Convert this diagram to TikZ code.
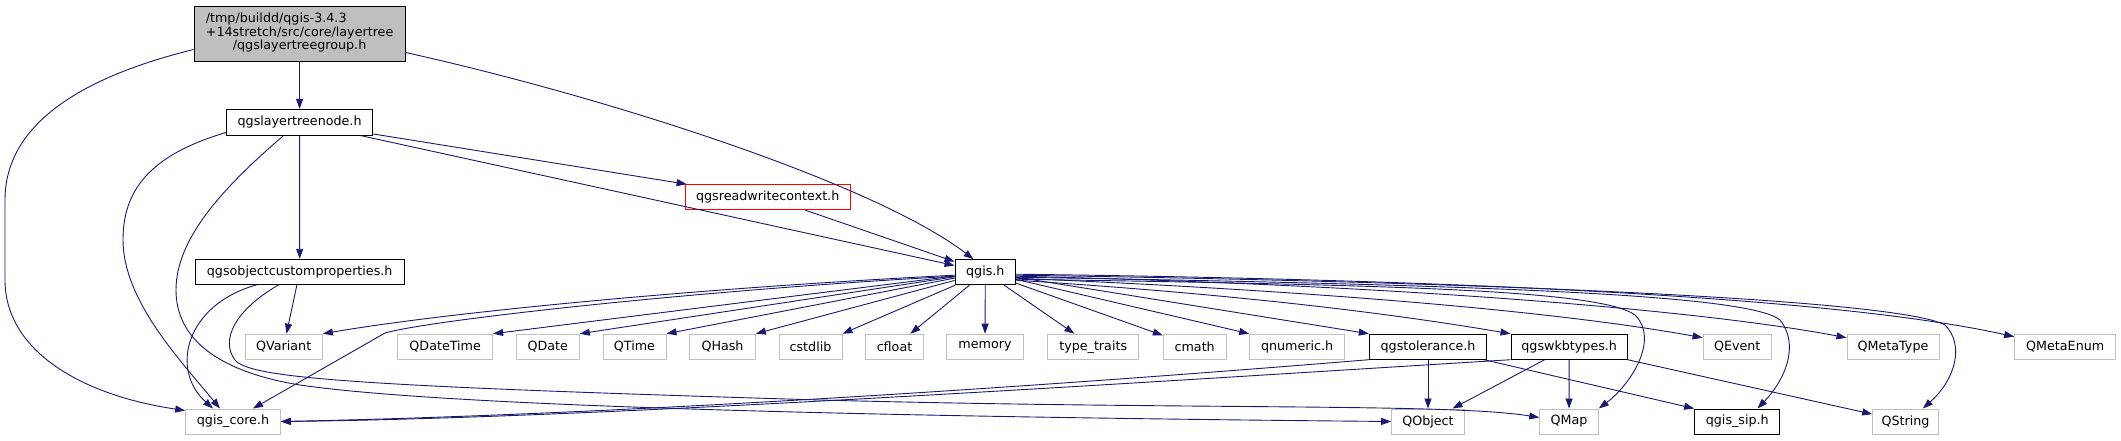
\documentclass[tikz,border=0pt]{standalone}
\usepackage{fontspec}
\setmainfont{DejaVu Sans}
\usetikzlibrary{arrows.meta,calc}
\definecolor{edgeblue}{HTML}{191970}
\definecolor{extgray}{HTML}{BFBFBF}
\begin{document}
\begin{tikzpicture}[x=1pt,y=-1pt,
  nbox/.style={draw, line width=1pt, fill=white, inner sep=0pt, minimum height=25pt, font=\fontsize{12.7}{13.4}\selectfont},
  doc/.style={nbox, draw=black},
  ext/.style={nbox, draw=extgray},
  trunc/.style={nbox, draw=red},
  edge/.style={draw=edgeblue, line width=0.9pt, -{Triangle[length=10pt,width=7pt]}}
]
\fill[white] (0,0) rectangle (2121,440);
\useasboundingbox (0,0) rectangle (2121,440);

% nodes
\node[doc, fill=extgray, minimum width=211pt, minimum height=55pt] (main) at (299.6,33.5)
  {\begin{tabular}{@{}l@{}}/tmp/buildd/qgis-3.4.3\\+14stretch/src/core/layertree\\\multicolumn{1}{@{}c@{}}{/qgslayertreegroup.h}\end{tabular}};
\node[doc, minimum width=146.5pt, minimum height=25.7pt] (ltn) at (299.6,122.2) {qgslayertreenode.h};
\node[doc, minimum width=209.3pt] (ocp) at (299.7,271.8) {qgsobjectcustomproperties.h};
\node[trunc, minimum width=164.6pt] (rwc) at (767.7,197.2) {qgsreadwritecontext.h};
\node[doc, minimum width=60.5pt] (qgis) at (985.3,272.2) {qgis.h};

\node[ext, minimum width=77.3pt] (QVariant) at (283.7,346.7) {QVariant};
\node[ext, minimum width=94.8pt] (QDateTime) at (445.2,346.7) {QDateTime};
\node[ext, minimum width=63pt] (QDate) at (547.8,346.7) {QDate};
\node[ext, minimum width=63pt] (QTime) at (634.5,346.7) {QTime};
\node[ext, minimum width=65.7pt] (QHash) at (722.5,346.7) {QHash};
\node[ext, minimum width=63pt] (cstdlib) at (810.5,346.7) {cstdlib};
\node[ext, minimum width=57.7pt] (cfloat) at (894.5,346.7) {cfloat};
\node[ext, minimum width=76.6pt] (memory) at (985,346.7) {memory};
\node[ext, minimum width=91pt] (typetraits) at (1093.2,346.7) {type\_traits};
\node[ext, minimum width=62.7pt] (cmath) at (1194.7,346.7) {cmath};
\node[ext, minimum width=94.8pt] (qnumeric) at (1297.1,346.7) {qnumeric.h};
\node[doc, minimum width=117.4pt] (qgstolerance) at (1428,346.7) {qgstolerance.h};
\node[doc, minimum width=116.3pt] (qgswkbtypes) at (1569.2,346.7) {qgswkbtypes.h};
\node[ext, minimum width=68.3pt] (QEvent) at (1737.2,346.7) {QEvent};
\node[ext, minimum width=92pt] (QMetaType) at (1893,346.7) {QMetaType};
\node[ext, minimum width=101pt] (QMetaEnum) at (2065.2,346.7) {QMetaEnum};

\node[ext, minimum width=94.6pt] (qgiscore) at (233,421.5) {qgis\_core.h};
\node[ext, minimum width=72.6pt] (QObject) at (1428,421.5) {QObject};
\node[ext, minimum width=58.6pt] (QMap) at (1569,421.5) {QMap};
\node[doc, minimum width=85.3pt] (qgissip) at (1737.3,421.5) {qgis\_sip.h};
\node[ext, minimum width=65.6pt] (QString) at (1905.5,421.5) {QString};

% edges from main
\draw[edge] (main) -- (ltn);
\draw[edge] ($(main.south west)+(0,-12)$) .. controls (90,75) and (5,120) .. (5,200) -- (5,280)
  .. controls (5,350) and (80,395) .. ($(qgiscore.north west)+(0,2)$);
\draw[edge] ($(main.south east)+(0,-9)$) .. controls (606,97) and (874,183) .. ($(qgis.north west)+(19,0)$);

% edges from qgslayertreenode.h
\draw[edge] (ltn) -- (rwc);
\draw[edge] (ltn) -- (qgis);
\draw[edge] (ltn) -- (ocp);
\draw[edge] ($(ltn.south west)+(0,-3)$) .. controls (150,155) and (123,190) .. (123,240)
  .. controls (123,300) and (180,360) .. ($(qgiscore.north)+(-13,0)$);
\draw[edge] ($(ltn.south)+(-16,0)$) .. controls (220,190) and (176,240) .. (176,290)
  .. controls (176,340) and (220,372) .. (300,385)
  .. controls (450,407) and (900,417) .. (QObject.west);

% edges from qgsreadwritecontext.h
\draw[edge] (rwc) -- (qgis);

% edges from qgsobjectcustomproperties.h
\draw[edge] ($(ocp.south)+(-43,0)$) .. controls (185,305) and (170,370) .. ($(qgiscore.north)+(-20,0)$);
\draw[edge] ($(ocp.south)+(-21,0)$) .. controls (235,310) and (220,340) .. (235,360)
  .. controls (250,378) and (350,386) .. (820,400)
  .. controls (1200,410) and (1450,403) .. ($(QMap.west)+(0,-4)$);
\draw[edge] (ocp) -- (QVariant);

% edges from qgis.h
\draw[edge] ($(qgis.west)+(0,4)$) .. controls (700,290) and (430,320) .. (385,333) -- ($(qgiscore.north)+(20,0)$);
\draw[edge] ($(qgis.west)+(0,3)$) .. controls (700,288) and (450,312) .. (QVariant.north east);
\draw[edge] (qgis) -- (QDateTime.north east);
\draw[edge] (qgis) -- (QDate.north east);
\draw[edge] (qgis) -- (QTime.north east);
\draw[edge] (qgis) -- (QHash.north east);
\draw[edge] (qgis) -- (cstdlib.north east);
\draw[edge] (qgis) -- (cfloat);
\draw[edge] (qgis) -- (memory);
\draw[edge] (qgis) -- (typetraits);
\draw[edge] (qgis) -- (cmath);
\draw[edge] (qgis) -- (qnumeric.north west);
\draw[edge] (qgis) -- (qgstolerance.north west);
\draw[edge] ($(qgis.east)+(0,8)$) .. controls (1250,295) and (1400,315) .. (qgswkbtypes.north west);
\draw[edge] ($(qgis.east)+(0,6)$) .. controls (1300,290) and (1550,310) .. ($(QEvent.north west)+(0,4)$);
\draw[edge] ($(qgis.east)+(0,4)$) .. controls (1400,285) and (1700,310) .. ($(QMetaType.north west)+(0,4)$);
\draw[edge] ($(qgis.east)+(0,2)$) .. controls (1500,280) and (1850,300) .. ($(QMetaEnum.north west)+(0,3)$);
\draw[edge] ($(qgis.east)+(0,3)$) .. controls (1500,282) and (1900,300) .. (1945,325)
  .. controls (1965,345) and (1955,380) .. ($(QString.north east)+(-16,0)$);
\draw[edge] ($(qgis.east)+(0,5)$) .. controls (1500,285) and (1750,295) .. (1780,320)
  .. controls (1800,345) and (1785,380) .. ($(qgissip.north east)+(-23,0)$);
\draw[edge] ($(qgis.east)+(0,7)$) .. controls (1400,285) and (1600,290) .. (1635,315)
  .. controls (1660,340) and (1630,385) .. (QMap.north east);

% edges from qgstolerance.h
\draw[edge] (qgstolerance) -- (QObject);
\draw[edge] (qgstolerance) -- (qgissip.north west);
\draw[edge] (qgstolerance.south west) .. controls (1000,390) and (600,415) .. (qgiscore.east);

% edges from qgswkbtypes.h
\draw[edge] (qgswkbtypes.south west) .. controls (1100,385) and (600,418) .. (qgiscore.east);
\draw[edge] (qgswkbtypes) -- (QObject);
\draw[edge] (qgswkbtypes) -- (QMap);
\draw[edge] (qgswkbtypes) -- (QString);
\end{tikzpicture}
\end{document}
